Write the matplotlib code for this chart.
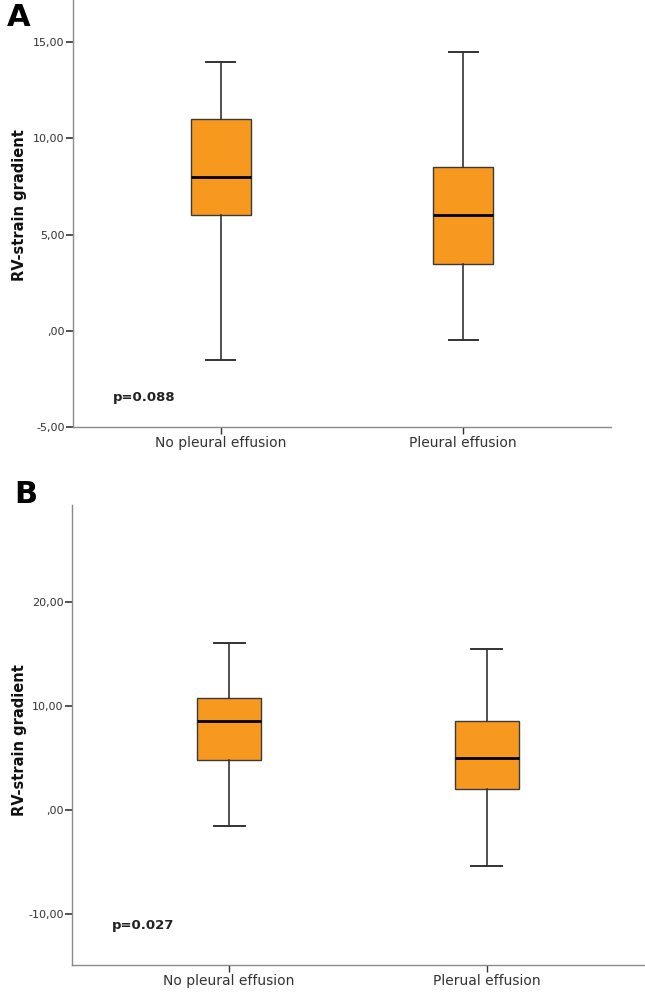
import numpy as np
import matplotlib
matplotlib.use("Agg")
import matplotlib.pyplot as plt

# group names
groups_a = ["No pleural effusion", "Pleural effusion"]
groups_b = ["No pleural effusion", "Plerual effusion"]

# box stats: lower whisker, Q1, median, Q3, upper whisker
a_low = [-1.5, -0.5]
a_q1 = [6.0, 3.5]
a_med = [8.0, 6.0]
a_q3 = [11.0, 8.5]
a_high = [14.0, 14.5]

b_low = [-1.5, -5.4]
b_q1 = [4.75, 2.0]
b_med = [8.5, 5.0]
b_q3 = [10.75, 8.5]
b_high = [16.0, 15.5]

a_ticks = [-5, 0, 5, 10, 15]
a_ticklabels = ["-5,00", ",00", "5,00", "10,00", "15,00"]
b_ticks = [-10, 0, 10, 20]
b_ticklabels = ["-10,00", ",00", "10,00", "20,00"]

p_a = "p=0.088"
p_b = "p=0.027"

orange = "#F7991F"
axcol = "#8a8a8a"
txtcol = "#333333"


def make_stats(low, q1, med, q3, high):
    return [dict(whislo=l, q1=a, med=m, q3=b, whishi=h, fliers=[])
            for l, a, m, b, h in zip(low, q1, med, q3, high)]


def draw_panel(ax, stats, names, ticks, ticklabels, ylim, ptext, ppos, ylab_pos):
    ax.bxp(stats, positions=[1, 2], widths=0.248, patch_artist=True,
           showfliers=False,
           boxprops=dict(facecolor=orange, edgecolor="#3a3a3a", linewidth=1.0),
           medianprops=dict(color="black", linewidth=2.0),
           whiskerprops=dict(color="#333333", linewidth=1.2),
           capprops=dict(color="#333333", linewidth=1.4),
           capwidths=0.12)
    ax.set_xlim(0.39, 2.61)
    ax.set_ylim(*ylim)
    ax.set_yticks(ticks)
    ax.set_yticklabels(ticklabels)
    ax.set_xticks([1, 2])
    ax.set_xticklabels(names)
    for s in ["top", "right"]:
        ax.spines[s].set_visible(False)
    for s in ["left", "bottom"]:
        ax.spines[s].set_color(axcol)
        ax.spines[s].set_linewidth(1.0)
    ax.tick_params(axis="y", direction="out", length=5, width=1.2, color="#333333",
                   labelsize=8, labelcolor=txtcol, pad=1)
    ax.tick_params(axis="x", direction="out", length=5, width=1.0, color="#333333",
                   labelsize=10, labelcolor=txtcol, pad=1.5)
    ax.set_ylabel("RV-strain gradient", fontsize=10.5, fontweight="bold", color="#111111")
    ax.yaxis.set_label_coords(*ylab_pos)
    ax.text(ppos[0], ppos[1], ptext, transform=ax.transAxes, fontsize=9.5,
            fontweight="bold", color="#222222", va="center", ha="left")


fig = plt.figure(figsize=(6.45, 9.94), dpi=100)
ax1 = fig.add_axes([0.1132, 0.5704, 0.834, 0.4296])
ax2 = fig.add_axes([0.1116, 0.0292, 0.887, 0.4628])

draw_panel(ax1, make_stats(a_low, a_q1, a_med, a_q3, a_high), groups_a,
           a_ticks, a_ticklabels, (-5, 17.2), p_a, (0.074, 0.068), (-0.0855, 0.52))
draw_panel(ax2, make_stats(b_low, b_q1, b_med, b_q3, b_high), groups_b,
           b_ticks, b_ticklabels, (-14.9, 29.3), p_b, (0.07, 0.085), (-0.079, 0.49))

fig.text(19 / 645, 1 - 26 / 994, "A", fontsize=22, fontweight="bold", ha="center", va="baseline")
fig.text(26 / 645, 1 - 503 / 994, "B", fontsize=22, fontweight="bold", ha="center", va="baseline")

fig.savefig("out.png", dpi=100)
